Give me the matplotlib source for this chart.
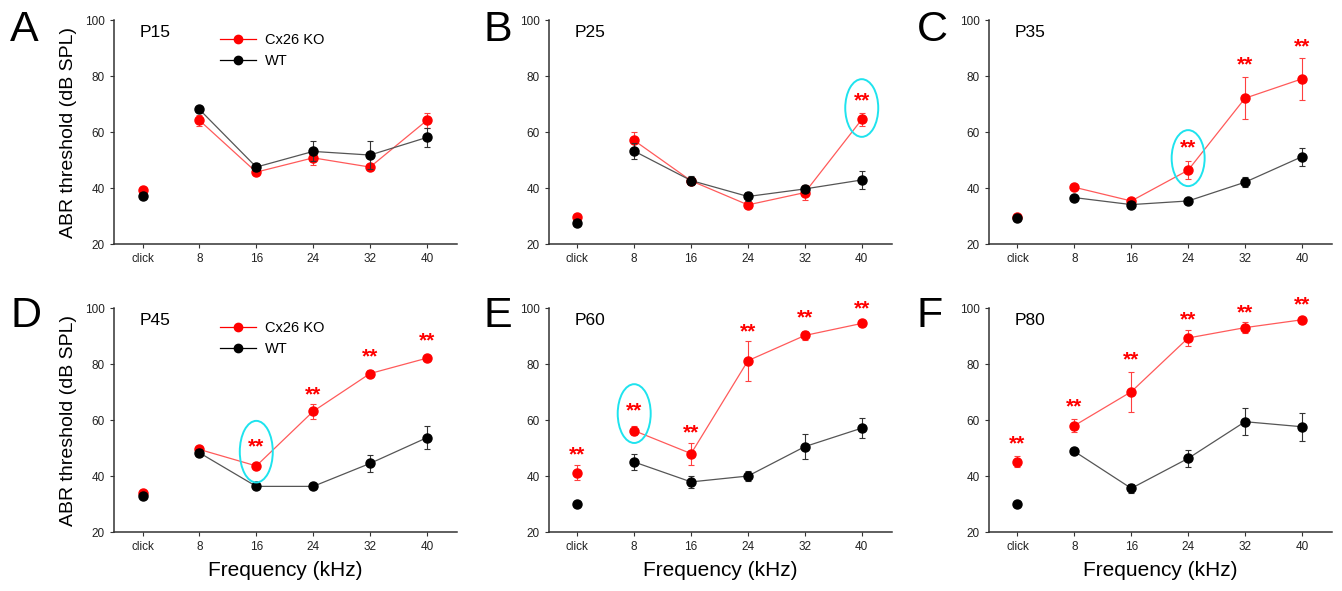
import matplotlib.pyplot as plt
from matplotlib.patches import Ellipse

plt.rcParams['font.family'] = ['Liberation Sans', 'DejaVu Sans']

freqs = ['click', '8', '16', '24', '32', '40']
panels = ['A', 'B', 'C', 'D', 'E', 'F']
ages = ['P15', 'P25', 'P35', 'P45', 'P60', 'P80']

# Cx26 KO thresholds (mean, sem) per age
ko_p15 = [39.3, 64.2, 45.7, 50.8, 47.5, 64.2]
ko_p15_err = [0.5, 2.0, 1.0, 2.5, 1.0, 2.7]
ko_p25 = [29.8, 57.0, 42.6, 34.0, 38.4, 64.5]
ko_p25_err = [0.5, 3.0, 1.0, 0.8, 2.6, 2.3]
ko_p35 = [29.5, 40.3, 35.4, 46.4, 72.1, 79.0]
ko_p35_err = [0.5, 0.8, 0.8, 3.3, 7.5, 7.4]
ko_p45 = [33.8, 49.5, 43.6, 63.1, 76.6, 82.1]
ko_p45_err = [0.5, 0.8, 0.8, 2.6, 1.2, 0.8]
ko_p60 = [41.2, 56.2, 48.0, 81.2, 90.2, 94.5]
ko_p60_err = [2.6, 1.5, 3.9, 7.2, 1.5, 1.0]
ko_p80 = [45.1, 58.0, 70.1, 89.3, 93.0, 95.8]
ko_p80_err = [2.0, 2.3, 7.2, 2.7, 2.0, 0.5]

# WT thresholds (mean, sem) per age
wt_p15 = [37.3, 68.1, 47.5, 53.1, 51.8, 58.1]
wt_p15_err = [0.5, 1.0, 1.5, 3.6, 4.9, 3.4]
wt_p25 = [27.6, 53.2, 42.7, 37.0, 39.7, 42.9]
wt_p25_err = [0.5, 2.9, 1.5, 1.5, 1.0, 3.3]
wt_p35 = [29.2, 36.6, 34.1, 35.4, 42.1, 51.2]
wt_p35_err = [0.5, 0.8, 0.8, 1.2, 1.8, 3.2]
wt_p45 = [32.8, 48.3, 36.3, 36.3, 44.5, 53.7]
wt_p45_err = [0.5, 1.2, 0.8, 1.0, 3.0, 4.0]
wt_p60 = [30.0, 45.0, 37.9, 40.0, 50.5, 57.1]
wt_p60_err = [0.5, 2.8, 2.0, 1.8, 4.5, 3.5]
wt_p80 = [30.0, 48.8, 35.6, 46.3, 59.4, 57.6]
wt_p80_err = [0.5, 1.0, 1.7, 3.0, 4.8, 5.0]

ko_all = [ko_p15, ko_p25, ko_p35, ko_p45, ko_p60, ko_p80]
ko_err_all = [ko_p15_err, ko_p25_err, ko_p35_err, ko_p45_err, ko_p60_err, ko_p80_err]
wt_all = [wt_p15, wt_p25, wt_p35, wt_p45, wt_p60, wt_p80]
wt_err_all = [wt_p15_err, wt_p25_err, wt_p35_err, wt_p45_err, wt_p60_err, wt_p80_err]

# significance (**) positions: index into freqs, y of stars
stars = [
    [],
    [(5, 71.0)],
    [(3, 54.3), (4, 84.1), (5, 90.3)],
    [(2, 50.5), (3, 69.0), (4, 82.7), (5, 88.1)],
    [(0, 47.5), (1, 63.2), (2, 55.3), (3, 91.4), (4, 96.6), (5, 99.8)],
    [(0, 51.3), (1, 64.8), (2, 81.5), (3, 95.8), (4, 98.4), (5, 101.2)],
]
# cyan ellipses: (index, centre y, height)
circles = [None, (5, 68.6, 20.6), (3, 50.7, 20.0), (2, 48.7, 22.0), (1, 62.3, 21.0), None]

W, H = 1342, 591
fig = plt.figure(figsize=(W / 100, H / 100), dpi=100)
lefts = [0.085, 0.409, 0.737]
bottoms = [0.587, 0.0998]
w, h = 0.2556, 0.379
letter_x = [10, 483, 917]
letter_top = [10, 296]

red = '#ff0000'
x = list(range(len(freqs)))

for i in range(6):
    ax = fig.add_axes([lefts[i % 3], bottoms[i // 3], w, h])
    ko, koe = ko_all[i], ko_err_all[i]
    wt, wte = wt_all[i], wt_err_all[i]

    ax.plot(x[1:], ko[1:], color='#ff5a5a', lw=0.9, zorder=2)
    ax.plot(x[1:], wt[1:], color='#555555', lw=0.9, zorder=2)
    ax.errorbar(x, ko, yerr=koe, fmt='o', color=red, ms=6.5, elinewidth=0.8,
                ecolor='#ff4040', capsize=2, capthick=0.8, zorder=3)
    ax.errorbar(x, wt, yerr=wte, fmt='o', color='black', ms=6.5, elinewidth=0.8,
                ecolor='#333333', capsize=2, capthick=0.8, zorder=4)

    for idx, ys in stars[i]:
        ax.text(x[idx], ys, '**', color=red, fontsize=15, fontweight='bold',
                ha='center', va='center', clip_on=False)
    if circles[i] is not None:
        idx, cy, ch = circles[i]
        ax.add_patch(Ellipse((x[idx], cy), 0.58, ch, fill=False,
                             edgecolor='#1ee3ee', lw=1.4, zorder=5))

    ax.set_xlim(-0.5, 5.53)
    ax.set_ylim(20, 100)
    ax.set_xticks(x)
    ax.set_xticklabels(freqs)
    ax.set_yticks([20, 40, 60, 80, 100])
    ax.tick_params(labelsize=8.5, length=3, width=0.8, colors='#333333',
                   labelcolor='#222222')
    for s in ['top', 'right']:
        ax.spines[s].set_visible(False)
    for s in ['left', 'bottom']:
        ax.spines[s].set_color('#333333')
        ax.spines[s].set_linewidth(1.1)

    ax.text(-0.05, 95.4, ages[i], fontsize=12.5, ha='left', va='center')
    fig.text(letter_x[i % 3] / W, 1 - letter_top[i // 3] / H, panels[i],
             fontsize=31, ha='left', va='top')

    if i % 3 == 0:
        ax.set_ylabel('ABR threshold (dB SPL)', fontsize=14, labelpad=6)
        ax.plot([], [], '-o', color=red, ms=6, lw=0.9, label='Cx26 KO')
        ax.plot([], [], '-o', color='black', ms=6, lw=0.9, label='WT')
        ax.legend(loc='upper left', bbox_to_anchor=(0.27, 1.0), frameon=False,
                  fontsize=10.5, handlelength=2.5, handletextpad=0.6,
                  labelspacing=0.45)
    if i >= 3:
        ax.set_xlabel('Frequency (kHz)', fontsize=15, labelpad=6)

fig.savefig('out.png', dpi=100)
